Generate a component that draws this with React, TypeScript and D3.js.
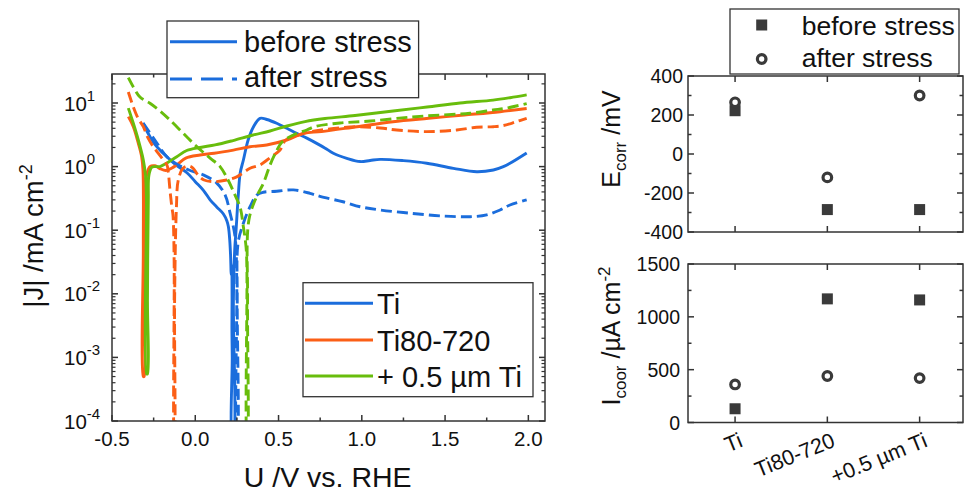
import React from "react";
import * as d3 from "d3";

type Pt = [number, number];

// ---- Left panel data: U (V vs RHE), |J| (mA cm^-2) ----
const TI_BEFORE: Pt[] = [
  [-0.314, 4.85], [-0.29, 3.6], [-0.27, 2.9], [-0.24, 2.2], [-0.21, 1.8], [-0.17, 1.43],
  [-0.12, 1.08], [-0.05, 0.8], [0.0, 0.58], [0.05, 0.42], [0.089, 0.3], [0.13, 0.23],
  [0.169, 0.18], [0.19, 0.14], [0.199, 0.113], [0.207, 0.07], [0.212, 0.04], [0.216, 0.02],
  [0.219, 0.03], [0.221, 0.008], [0.22, 0.003], [0.222, 0.001], [0.222, 0.00005],
  [0.229, 0.00005], [0.229, 0.008], [0.237, 0.05], [0.245, 0.1], [0.259, 0.38], [0.27, 0.8],
  [0.289, 1.27], [0.317, 2.6], [0.349, 4.2], [0.389, 5.75], [0.43, 5.5], [0.489, 4.8],
  [0.55, 4.0], [0.609, 3.34], [0.67, 2.8], [0.729, 2.32], [0.78, 1.95], [0.829, 1.62],
  [0.91, 1.35], [0.99, 1.2], [1.05, 1.25], [1.11, 1.3], [1.25, 1.24], [1.39, 1.13],
  [1.55, 0.94], [1.69, 0.83], [1.79, 0.885], [1.85, 1.0], [1.89, 1.13], [1.99, 1.64],
];

const TI_AFTER: Pt[] = [
  [-0.312, 4.8], [-0.242, 2.6], [-0.171, 1.43], [-0.104, 1.07], [-0.038, 0.885], [0.048, 0.74],
  [0.129, 0.55], [0.179, 0.36], [0.209, 0.185], [0.239, 0.079], [0.249, 0.0166], [0.249, 0.00005],
  [0.252, 0.00005], [0.252, 0.0079], [0.257, 0.063], [0.289, 0.129], [0.329, 0.234], [0.369, 0.357],
  [0.409, 0.395], [0.489, 0.41], [0.589, 0.43], [0.689, 0.38], [0.749, 0.34], [0.887, 0.28],
  [0.99, 0.234], [1.11, 0.208], [1.29, 0.185], [1.49, 0.167], [1.65, 0.163], [1.75, 0.174],
  [1.83, 0.208], [1.89, 0.249], [1.99, 0.3],
];

const TI80_BEFORE: Pt[] = [
  [-0.402, 6.1], [-0.372, 4.24], [-0.342, 2.32], [-0.322, 1.43], [-0.314, 0.885], [-0.312, 0.049],
  [-0.312, 0.0005], [-0.307, 0.0005], [-0.307, 0.0079], [-0.299, 0.3], [-0.292, 0.74], [-0.272, 1.0],
  [-0.242, 1.03], [-0.212, 0.93], [-0.176, 0.87], [-0.14, 0.95], [-0.104, 1.1], [-0.057, 1.36],
  [0.029, 1.52], [0.114, 1.62], [0.229, 1.82], [0.329, 2.05], [0.429, 2.19], [0.549, 2.62],
  [0.651, 3.34], [0.758, 3.55], [0.971, 4.24], [1.187, 5.08], [1.401, 5.75], [1.616, 6.47],
  [1.83, 7.3], [1.99, 8.2],
];

const TI80_AFTER: Pt[] = [
  [-0.402, 14.9], [-0.372, 8.7], [-0.344, 5.8], [-0.312, 4.24], [-0.284, 2.82], [-0.252, 2.05],
  [-0.224, 1.64], [-0.192, 1.27], [-0.17, 1.06], [-0.162, 0.82], [-0.152, 0.43], [-0.141, 0.234],
  [-0.134, 0.174], [-0.127, 0.034], [-0.126, 0.00005], [-0.125, 0.00005], [-0.124, 0.008],
  [-0.113, 0.234], [-0.102, 0.615], [-0.072, 0.95], [-0.038, 1.02], [-0.014, 0.95], [0.016, 0.74],
  [0.053, 0.615], [0.114, 0.58], [0.189, 0.615], [0.249, 0.69], [0.329, 0.94], [0.389, 1.06],
  [0.457, 1.43], [0.509, 1.82], [0.543, 2.62], [0.589, 2.92], [0.651, 3.34], [0.758, 3.76],
  [0.971, 4.24], [1.11, 4.05], [1.21, 3.76], [1.39, 3.55], [1.57, 3.76], [1.69, 4.15],
  [1.79, 4.24], [1.85, 4.42], [1.92, 5.0], [1.99, 5.75],
];

const TI05_BEFORE: Pt[] = [
  [-0.402, 8.3], [-0.372, 4.8], [-0.342, 2.62], [-0.312, 1.27], [-0.299, 0.74], [-0.293, 0.3],
  [-0.292, 0.00055], [-0.287, 0.00055], [-0.287, 0.008], [-0.282, 0.3], [-0.278, 0.74], [-0.26, 0.98],
  [-0.236, 1.0], [-0.212, 1.0], [-0.172, 1.13], [-0.111, 1.43], [-0.051, 1.79], [0.029, 2.0],
  [0.119, 2.19], [0.227, 2.57], [0.347, 3.14], [0.449, 3.63], [0.551, 4.35], [0.659, 5.1],
  [0.779, 5.7], [0.959, 6.36], [1.188, 7.48], [1.392, 8.65], [1.59, 10.0], [1.788, 11.1],
  [1.89, 12.1], [1.99, 13.4],
];

const TI05_AFTER: Pt[] = [
  [-0.402, 25], [-0.372, 17.9], [-0.332, 12.4], [-0.272, 9.9], [-0.212, 7.5], [-0.152, 5.4],
  [-0.072, 3.34], [0.009, 2.06], [0.089, 1.36], [0.149, 1.0], [0.197, 0.615], [0.233, 0.385],
  [0.269, 0.23], [0.289, 0.112], [0.305, 0.054], [0.31, 0.0236], [0.311, 0.00005],
  [0.313, 0.00005], [0.314, 0.008], [0.322, 0.145], [0.369, 0.34], [0.409, 0.545], [0.449, 1.06],
  [0.485, 1.7], [0.521, 2.44], [0.589, 3.14], [0.669, 3.76], [0.719, 4.27], [0.869, 4.85],
  [1.05, 5.2], [1.29, 6.0], [1.488, 6.5], [1.65, 6.9], [1.788, 7.76], [1.872, 8.35], [1.99, 9.8],
];

const U_TICKS = [-0.5, 0, 0.5, 1.0, 1.5, 2.0];
const U_TICK_LABELS = ["-0.5", "0.0", "0.5", "1.0", "1.5", "2.0"];
const J_EXPONENTS = [-4, -3, -2, -1, 0, 1];
const SAMPLE_NAMES = ["Ti", "Ti80-720", "+ 0.5 µm Ti"];
const STATE_NAMES = ["before stress", "after stress"];

// ---- Right panels data ----
const CATEGORIES = ["Ti", "Ti80-720", "+0.5 µm Ti"];
const ECORR_BEFORE = [222, -285, -285];
const ECORR_AFTER = [265, -120, 300];
const ICORR_BEFORE = [130, 1170, 1160];
const ICORR_AFTER = [360, 440, 420];
const ECORR_TICKS = [-400, -200, 0, 200, 400];
const ICORR_TICKS = [0, 500, 1000, 1500];

const BLUE = "#1b6ddc";
const ORANGE = "#fb5f16";
const GREEN = "#68bd0c";
const FRAME = "#333333";
const MARK = "#3a3a3a";
const FONT = "'Liberation Sans', Arial, sans-serif";

export default function App() {
  const L = { x0: 112, x1: 545, y0: 74, y1: 421 };
  const xL = d3.scaleLinear().domain([-0.5, 2.1]).range([L.x0, L.x1]);
  const yL = d3.scaleLog().domain([1e-4, Math.pow(10, 1.456)]).range([L.y1, L.y0]);
  const line = d3
    .line<Pt>()
    .x((d) => xL(d[0]))
    .y((d) => yL(d[1]))
    .curve(d3.curveCatmullRom.alpha(0.5));

  const series = [
    { data: TI_BEFORE, color: BLUE, dash: null },
    { data: TI80_BEFORE, color: ORANGE, dash: null },
    { data: TI05_BEFORE, color: GREEN, dash: null },
    { data: TI_AFTER, color: BLUE, dash: "11,5" },
    { data: TI80_AFTER, color: ORANGE, dash: "11,5" },
    { data: TI05_AFTER, color: GREEN, dash: "11,5" },
  ];

  const uMinor = d3.range(-0.5, 2.101, 0.25).filter((v) => !U_TICKS.some((t) => Math.abs(t - v) < 1e-6));
  const jMinor: number[] = [];
  for (let e = -4; e <= 1; e++) for (let k = 2; k <= 9; k++) {
    const v = k * Math.pow(10, e);
    if (v < Math.pow(10, 1.456)) jMinor.push(v);
  }

  const R = { x0: 688, x1: 963 };
  const xR = d3.scaleLinear().domain([0.49, 3.47]).range([R.x0, R.x1]);
  const E = { y0: 76, y1: 232 };
  const yE = d3.scaleLinear().domain([-400, 400]).range([E.y1, E.y0]);
  const I = { y0: 264, y1: 422.5 };
  const yI = d3.scaleLinear().domain([0, 1500]).range([I.y1, I.y0]);
  const eMinor = d3.range(-300, 400, 200);
  const iMinor = d3.range(250, 1500, 500);

  const sq = 11;
  const circR = 4.3;

  const Square = ({ cx, cy }: { cx: number; cy: number }) => (
    <rect x={cx - sq / 2} y={cy - sq / 2} width={sq} height={sq} fill={MARK} />
  );
  const Circle = ({ cx, cy }: { cx: number; cy: number }) => (
    <circle cx={cx} cy={cy} r={circR} fill="white" stroke={MARK} strokeWidth={3.2} />
  );

  const rightPanel = (
    scale: d3.ScaleLinear<number, number>,
    box: { y0: number; y1: number },
    ticks: number[],
    minor: number[],
    before: number[],
    after: number[],
    labelX: number
  ) => (
    <g>
      <rect x={R.x0} y={box.y0} width={R.x1 - R.x0} height={box.y1 - box.y0} fill="none" stroke={FRAME} strokeWidth={1.5} />
      {ticks.map((t) => (
        <g key={"t" + t}>
          <line x1={R.x0} x2={R.x0 + 6} y1={scale(t)} y2={scale(t)} stroke={FRAME} strokeWidth={1.5} />
          <line x1={R.x1} x2={R.x1 - 6} y1={scale(t)} y2={scale(t)} stroke={FRAME} strokeWidth={1.5} />
          <text x={labelX} y={scale(t) + 7} textAnchor="end" fontSize={19.5} fontFamily={FONT} fill="#111">
            {t}
          </text>
        </g>
      ))}
      {minor.map((t) => (
        <g key={"m" + t}>
          <line x1={R.x0} x2={R.x0 + 3.5} y1={scale(t)} y2={scale(t)} stroke={FRAME} strokeWidth={1.5} />
          <line x1={R.x1} x2={R.x1 - 3.5} y1={scale(t)} y2={scale(t)} stroke={FRAME} strokeWidth={1.5} />
        </g>
      ))}
      {CATEGORIES.map((c, i) => (
        <g key={"c" + c}>
          <line x1={xR(i + 1)} x2={xR(i + 1)} y1={box.y1} y2={box.y1 - 6} stroke={FRAME} strokeWidth={1.5} />
          <line x1={xR(i + 1)} x2={xR(i + 1)} y1={box.y0} y2={box.y0 + 6} stroke={FRAME} strokeWidth={1.5} />
        </g>
      ))}
      {before.map((v, i) => (
        <Square key={"b" + i} cx={xR(i + 1)} cy={scale(v)} />
      ))}
      {after.map((v, i) => (
        <Circle key={"a" + i} cx={xR(i + 1)} cy={scale(v)} />
      ))}
    </g>
  );

  return (
    <svg width={972} height={494} style={{ position: "absolute", left: 0, top: 0, display: "block", background: "white" }}>
      <rect x={0} y={0} width={972} height={494} fill="white" />
      <defs>
        <clipPath id="clipL">
          <rect x={L.x0} y={L.y0} width={L.x1 - L.x0} height={L.y1 - L.y0} />
        </clipPath>
      </defs>

      {/* ===== Left panel ===== */}
      <g clipPath="url(#clipL)">
        {series.map((s, i) => (
          <path
            key={i}
            d={line(s.data) || ""}
            fill="none"
            stroke={s.color}
            strokeWidth={2.9}
            strokeDasharray={s.dash || undefined}
            strokeLinejoin="round"
          />
        ))}
      </g>
      <rect x={L.x0} y={L.y0} width={L.x1 - L.x0} height={L.y1 - L.y0} fill="none" stroke={FRAME} strokeWidth={1.5} />
      {U_TICKS.map((t, i) => (
        <g key={"u" + t}>
          <line x1={xL(t)} x2={xL(t)} y1={L.y1} y2={L.y1 - 6} stroke={FRAME} strokeWidth={1.5} />
          <line x1={xL(t)} x2={xL(t)} y1={L.y0} y2={L.y0 + 6} stroke={FRAME} strokeWidth={1.5} />
          <text x={xL(t)} y={445.5} textAnchor="middle" fontSize={20.5} fontFamily={FONT} fill="#111">
            {U_TICK_LABELS[i]}
          </text>
        </g>
      ))}
      {uMinor.map((t) => (
        <g key={"um" + t}>
          <line x1={xL(t)} x2={xL(t)} y1={L.y1} y2={L.y1 - 3.5} stroke={FRAME} strokeWidth={1.5} />
          <line x1={xL(t)} x2={xL(t)} y1={L.y0} y2={L.y0 + 3.5} stroke={FRAME} strokeWidth={1.5} />
        </g>
      ))}
      {J_EXPONENTS.map((e) => {
        const y = yL(Math.pow(10, e));
        return (
          <g key={"j" + e}>
            <line x1={L.x0} x2={L.x0 + 6} y1={y} y2={y} stroke={FRAME} strokeWidth={1.5} />
            <line x1={L.x1} x2={L.x1 - 6} y1={y} y2={y} stroke={FRAME} strokeWidth={1.5} />
            <text x={64} y={y + 7.5} fontSize={20.5} fontFamily={FONT} fill="#111">
              10
              <tspan fontSize={15} dy={-10}>{e}</tspan>
            </text>
          </g>
        );
      })}
      {jMinor.map((v, i) => (
        <g key={"jm" + i}>
          <line x1={L.x0} x2={L.x0 + 3.5} y1={yL(v)} y2={yL(v)} stroke={FRAME} strokeWidth={1.2} />
          <line x1={L.x1} x2={L.x1 - 3.5} y1={yL(v)} y2={yL(v)} stroke={FRAME} strokeWidth={1.2} />
        </g>
      ))}
      <text x={327.7} y={486.5} textAnchor="middle" fontSize={28.5} fontFamily={FONT} fill="#111">
        U /V vs. RHE
      </text>
      <text transform="translate(43,236) rotate(-90)" textAnchor="middle" fontSize={27.5} fontFamily={FONT} fill="#111">
        |J| /mA cm<tspan fontSize={18} dy={-11}>-2</tspan>
      </text>

      {/* legend: states */}
      <rect x={167} y={21} width={251.6} height={76.7} fill="white" stroke={FRAME} strokeWidth={1.3} />
      <line x1={170} x2={237} y1={41.7} y2={41.7} stroke={BLUE} strokeWidth={3} />
      <line x1={170} x2={237} y1={79} y2={79} stroke={BLUE} strokeWidth={3} strokeDasharray="22,9" />
      <text x={244} y={51.5} fontSize={29} fontFamily={FONT} fill="#111">{STATE_NAMES[0]}</text>
      <text x={244} y={87} fontSize={29} fontFamily={FONT} fill="#111">{STATE_NAMES[1]}</text>

      {/* legend: samples */}
      <rect x={303} y={282.7} width={230} height={114} fill="white" stroke={FRAME} strokeWidth={1.3} />
      {[BLUE, ORANGE, GREEN].map((c, i) => {
        const yy = [303.3, 340, 376][i];
        return (
          <g key={"ls" + i}>
            <line x1={305} x2={373} y1={yy} y2={yy} stroke={c} strokeWidth={3} />
            <text x={377} y={yy + 10.5} fontSize={29} fontFamily={FONT} fill="#111">{SAMPLE_NAMES[i]}</text>
          </g>
        );
      })}

      {/* ===== Right panels ===== */}
      {rightPanel(yE, E, ECORR_TICKS, eMinor, ECORR_BEFORE, ECORR_AFTER, 683)}
      {rightPanel(yI, I, ICORR_TICKS, iMinor, ICORR_BEFORE, ICORR_AFTER, 680)}

      {CATEGORIES.map((c, i) => (
        <text
          key={"cl" + c}
          transform={`translate(${xR(i + 1) + 9},446) rotate(-22)`}
          textAnchor="end"
          fontSize={21.5}
          fontFamily={FONT}
          fill="#111"
        >
          {c}
        </text>
      ))}

      <text transform="translate(620,139) rotate(-90)" textAnchor="middle" fontSize={25} fontFamily={FONT} fill="#111">
        E<tspan fontSize={17} dy={6}>corr</tspan>
        <tspan dy={-6}> /mV</tspan>
      </text>
      <text transform="translate(620,336) rotate(-90)" textAnchor="middle" fontSize={25} fontFamily={FONT} fill="#111">
        I<tspan fontSize={17} dy={6}>coor</tspan>
        <tspan dy={-6}> /µA cm</tspan>
        <tspan fontSize={17} dy={-10}>-2</tspan>
      </text>

      {/* legend right */}
      <rect x={730} y={9} width={229} height={65} fill="white" stroke={FRAME} strokeWidth={1.3} />
      <Square cx={761.7} cy={25} />
      <Circle cx={761.7} cy={59} />
      <text x={801.7} y={35} fontSize={26.5} fontFamily={FONT} fill="#111">{STATE_NAMES[0]}</text>
      <text x={801.7} y={67} fontSize={26.5} fontFamily={FONT} fill="#111">{STATE_NAMES[1]}</text>
    </svg>
  );
}
